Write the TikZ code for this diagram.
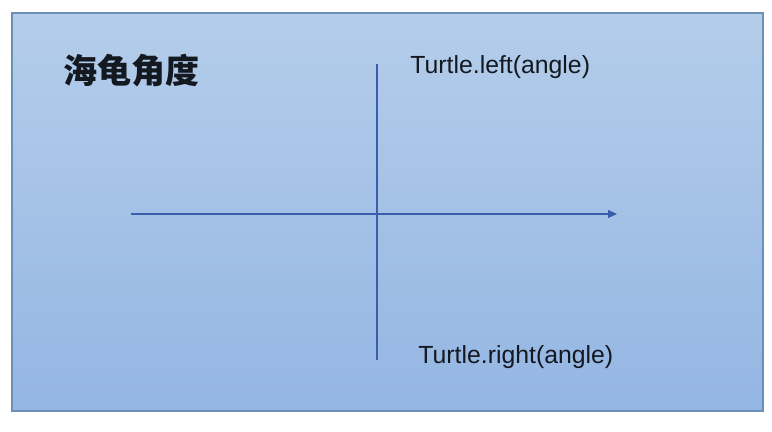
\documentclass[tikz,border=0pt]{standalone}
\usepackage{fontspec}
\setmainfont{Liberation Sans}
\newfontfamily\cjk{Noto Sans CJK SC}
\usetikzlibrary{arrows.meta,positioning}
\definecolor{slidetop}{RGB}{180,205,234}
\definecolor{slidebottom}{RGB}{148,182,227}
\definecolor{slideborder}{RGB}{110,143,181}
\definecolor{axisblue}{RGB}{58,94,172}
\definecolor{textdark}{RGB}{20,24,32}

\begin{document}
\begin{tikzpicture}[
    x=0.5pt, y=-0.5pt,
    slide/.style={draw=slideborder, line width=0.6pt, top color=slidetop, bottom color=slidebottom},
    axis/.style={draw=axisblue, line width=0.55pt},
    arrow/.style={axis, -{Triangle[length=4.5pt, width=4pt]}},
    title/.style={font=\cjk\fontsize{17}{20}\selectfont\bfseries, text=textdark, inner sep=0pt, anchor=west},
    label/.style={font=\fontsize{12.4}{14}\selectfont, text=textdark, inner sep=0pt, anchor=base west}
]
\useasboundingbox (0,0) rectangle (772,432);

% Background slide
\path[slide] (12,13) rectangle (763,411);

% Title
\node[title] (title) at (63,71) {海龟角度};

% Axes
\coordinate (ytop) at (377,64);
\coordinate (ybot) at (377,360);
\coordinate (xleft) at (131,214);
\coordinate (xright) at (617,214);
\draw[axis] (ytop) -- (ybot);
\draw[arrow] (xleft) -- (xright);

% Labels
\node[label] (left) at (410,74) {Turtle.left(angle)};
\node[label] (right) at (418,364) {Turtle.right(angle)};

\end{tikzpicture}
\end{document}
